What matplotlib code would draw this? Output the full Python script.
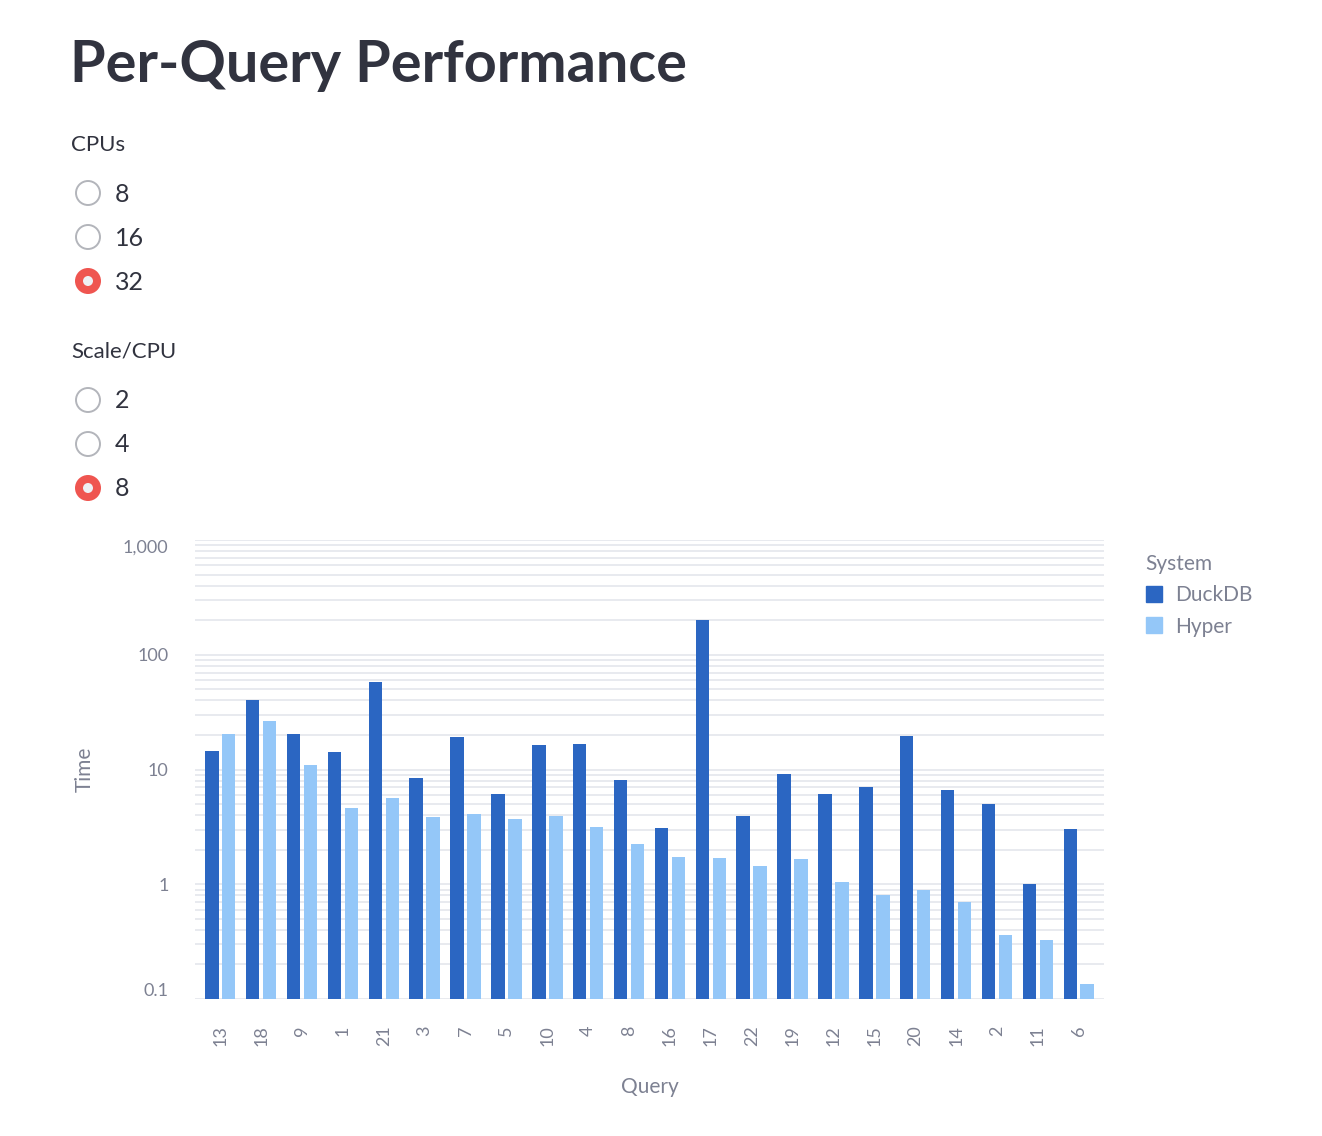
import matplotlib
matplotlib.use("Agg")
import matplotlib.pyplot as plt
import numpy as np
from matplotlib.patches import Circle, Patch
from matplotlib.ticker import FixedLocator, LogLocator, NullFormatter

# data (log scale, seconds)
queries = ["13", "18", "9", "1", "21", "3", "7", "5", "10", "4", "8",
           "16", "17", "22", "19", "12", "15", "20", "14", "2", "11", "6"]
duckdb = [14.5, 40.3, 20.4, 14.2, 57.9, 8.4, 19.2, 6.1, 16.3, 16.7, 8.1,
          3.09, 201, 3.94, 9.1, 6.1, 7.0, 19.6, 6.6, 5.0, 1.0, 3.03]
hyper = [20.4, 26.5, 10.9, 4.6, 5.65, 3.86, 4.1, 3.7, 3.94, 3.15, 2.24,
         1.73, 1.69, 1.44, 1.66, 1.05, 0.805, 0.89, 0.70, 0.36, 0.33, 0.135]
systems = ["DuckDB", "Hyper"]
cpu_options = ["8", "16", "32"]
scale_options = ["2", "4", "8"]
cpu_selected = "32"
scale_selected = "8"
y_ticks = [0.1, 1, 10, 100, 1000]
y_ticklabels = ["0.1", "1", "10", "100", "1,000"]

dark = "#31333f"
grey = "#7d8192"
grid = "#e6e8ee"
c_duck = "#2b66c2"
c_hyper = "#94c7f8"

plt.rcParams["font.family"] = ["Lato", "DejaVu Sans"]

fig = plt.figure(figsize=(13.22, 11.36), dpi=100)

# overlay in pixel coordinates for the page widgets
page = fig.add_axes([0, 0, 1, 1])
page.set_xlim(0, 1322)
page.set_ylim(1136, 0)
page.axis("off")

page.text(70, 66, "Per-Query Performance", fontsize=41.5, fontweight="bold",
          color=dark, va="center", ha="left")


def radio_group(title, options, selected, y_title, y0):
    page.text(71, y_title, title, fontsize=16, color=dark, va="center")
    for k, opt in enumerate(options):
        y = y0 + k * 44
        if opt == selected:
            page.add_patch(Circle((88, y), 13, facecolor="#ef5550", edgecolor="none"))
            page.add_patch(Circle((88, y), 5, facecolor="#eef0f4", edgecolor="none"))
        else:
            page.add_patch(Circle((88, y), 12, facecolor="white",
                                  edgecolor="#b3b5bb", linewidth=1.4))
        page.text(115, y + 1, opt, fontsize=18, color=dark, va="center")


radio_group("CPUs", cpu_options, cpu_selected, 145, 193)
radio_group("Scale/CPU", scale_options, scale_selected, 352, 400)

# chart
ax = fig.add_axes([195 / 1322, 1 - 999 / 1136, 909 / 1322, 459 / 1136])
x = np.arange(len(queries))
w = 0.33
off = 0.2075
ax.bar(x - off, duckdb, width=w, color=c_duck, zorder=3, label=systems[0])
ax.bar(x + off, hyper, width=w, color=c_hyper, zorder=3, label=systems[1])

ax.set_yscale("log")
ax.set_ylim(0.1, 1000)
ax.set_xlim(-0.6175, len(queries) - 1 + 0.6175)
ax.yaxis.set_major_locator(FixedLocator(y_ticks))
ax.set_yticklabels(y_ticklabels)
ax.yaxis.set_minor_locator(LogLocator(base=10, subs=np.arange(2, 10)))
ax.yaxis.set_minor_formatter(NullFormatter())
ax.grid(True, which="both", axis="y", color=grid, linewidth=1.3, zorder=0)
ax.set_xticks(x)
ax.set_xticklabels(queries, rotation=90)
for s in ax.spines.values():
    s.set_visible(False)
ax.tick_params(axis="both", which="both", length=0, colors=grey, labelsize=13)
ax.tick_params(axis="y", pad=19)
ax.tick_params(axis="x", pad=19)
labels = ax.get_yticklabels()
labels[0].set_va("bottom")
labels[-1].set_va("top")

ax.set_xlabel("Query", fontsize=15, color=grey, labelpad=22)
ax.set_ylabel("Time", fontsize=15, color=grey, labelpad=20)

handles = [Patch(color=c_duck), Patch(color=c_hyper)]
leg = ax.legend(handles, systems, title="System", loc="upper left",
                bbox_to_anchor=(1127 / 1322, 1 - 535 / 1136),
                bbox_transform=fig.transFigure, frameon=False,
                fontsize=15, title_fontsize=15, alignment="left",
                handlelength=0.8, handleheight=0.8, handletextpad=0.6,
                labelspacing=0.55)
leg.get_title().set_color(grey)
for t in leg.get_texts():
    t.set_color(grey)

fig.savefig("out.png", dpi=100, facecolor="white")
